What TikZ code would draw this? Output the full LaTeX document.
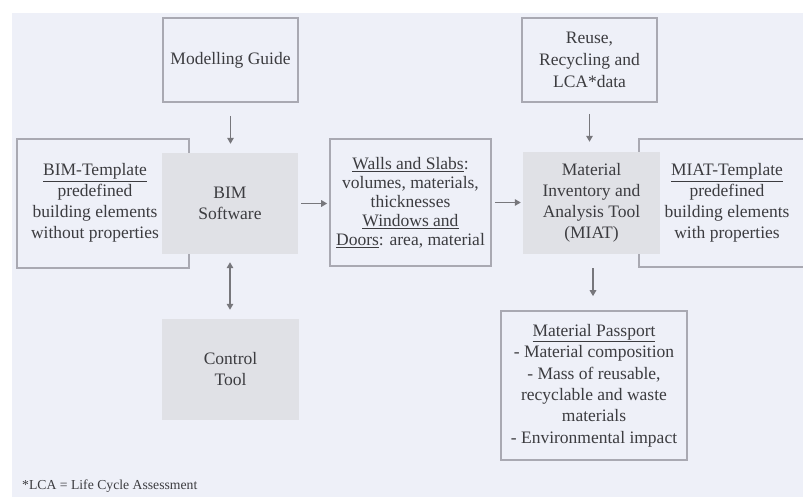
\documentclass[tikz,border=0pt]{standalone}
\usepackage{fontspec}
\setmainfont{Liberation Serif}
\usetikzlibrary{arrows.meta}
\definecolor{bgcol}{HTML}{EEF0F8}
\definecolor{boxfill}{HTML}{E0E1E6}
\definecolor{framecol}{HTML}{A9A9B2}
\definecolor{txtcol}{HTML}{3C3C40}
\definecolor{arrcol}{HTML}{77777C}
\tikzset{
  frame/.style={draw=framecol, line width=1.6pt, fill=bgcol, inner sep=0pt,
    text=txtcol, align=center, font=\fontsize{17.5}{21}\selectfont},
  toolbox/.style={fill=boxfill, inner sep=0pt, text=txtcol, align=center,
    font=\fontsize{17.5}{21}\selectfont},
  label/.style={inner sep=0pt, text=txtcol, align=center,
    font=\fontsize{17.5}{21}\selectfont},
  arr/.style={draw=arrcol, line width=1.6pt, -{Triangle[length=6pt,width=6.5pt]}},
  darr/.style={draw=arrcol, line width=1.6pt, {Triangle[length=6pt,width=6.5pt]}-{Triangle[length=6pt,width=6.5pt]}}
}
\begin{document}
\begin{tikzpicture}[x=1pt,y=-1pt]
  \useasboundingbox (0,0) rectangle (803,497);
  \clip (0,0) rectangle (803,497);
  % background panel
  \fill[bgcol] (12,13) rectangle (803,497);

  % input frames
  \node[frame, minimum width=135pt, minimum height=84pt] (mg) at (230.5,60) {Modelling Guide};
  \node[frame, minimum width=135pt, minimum height=84pt] (reuse) at (589.5,60)
    {Reuse,\\[1pt]Recycling and\\[1pt]LCA*data};

  % template frames (partly covered by the tool boxes)
  \node[frame, minimum width=172pt, minimum height=129pt] (bimt) at (103,203.5) {};
  \node[label] (bimttxt) at (95,203)
    {\underline{BIM-Template}\\predefined\\building elements\\without properties};
  \node[frame, minimum width=176pt, minimum height=128pt] (miatt) at (727,203)
    {\underline{MIAT-Template}\\predefined\\building elements\\with properties};

  % tool boxes
  \node[toolbox, minimum width=136pt, minimum height=101pt] (bim) at (230,203.5) {BIM\\Software};
  \node[toolbox, minimum width=137pt, minimum height=102pt] (miat) at (591.5,203)
    {Material\\Inventory and\\Analysis Tool\\(MIAT)};
  \node[toolbox, minimum width=137pt, minimum height=101pt] (ctrl) at (230.5,369.5) {Control\\Tool};

  % exported data
  \node[frame, minimum width=161pt, minimum height=127pt,
        font=\fontsize{17.5}{19}\selectfont] (walls) at (410.5,202.5)
    {\underline{Walls and Slabs}:\\volumes, materials,\\thicknesses\\\underline{Windows and}\\\underline{Doors}: area, material};

  % result
  \node[frame, minimum width=186pt, minimum height=149pt,
        font=\fontsize{17.5}{21.4}\selectfont] (pass) at (594,385.5)
    {\underline{Material Passport}\\- Material composition\\- Mass of reusable,\\recyclable and waste\\materials\\- Environmental impact};

  % connectors
  \draw[arr, shorten <=13pt, shorten >=9pt] (mg.south) -- (mg.south |- bim.north);
  \draw[arr, shorten <=11pt, shorten >=10pt] (reuse.south) -- (reuse.south |- miat.north);
  \draw[arr, shorten <=3pt, shorten >=2pt] (bim.east) -- (bim.east -| walls.west);
  \draw[arr, shorten <=3pt, shorten >=2pt] (walls.east) -- (walls.east -| miat.west);
  \draw[arr, shorten <=14pt, shorten >=14pt] ([xshift=1.5pt]miat.south) -- ([xshift=1.5pt]miat.south |- pass.north);
  \draw[darr, shorten <=8pt, shorten >=9pt] (bim.south) -- (bim.south |- ctrl.north);

  % footnote
  \node[anchor=base west, inner sep=0pt, text=txtcol, font=\fontsize{13.7}{16}\selectfont] (note)
    at (22,489) {*LCA = Life Cycle Assessment};
\end{tikzpicture}
\end{document}
